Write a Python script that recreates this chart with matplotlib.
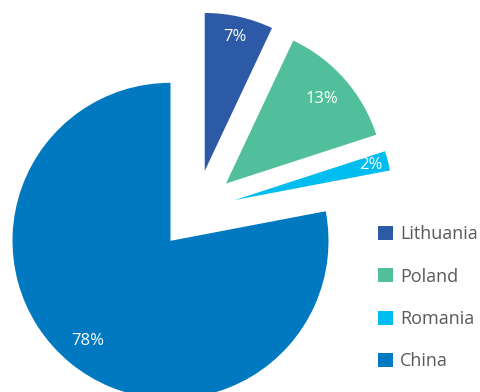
import numpy as np
import matplotlib.pyplot as plt
from matplotlib.patches import Patch

# data
countries = ["Lithuania", "Poland", "Romania", "China"]
shares = [7, 13, 2, 78]
colors = ["#2C5AA6", "#52BF9C", "#00BDF0", "#0079C1"]

plt.rcParams["font.family"] = ["Open Sans", "DejaVu Sans"]

fig = plt.figure(figsize=(4.81, 3.92), dpi=100)
ax = fig.add_axes([0, 0, 1, 1])

# explode is in data units (pixels here), every slice pulled out the same
wedges, texts, autotexts = ax.pie(
    shares,
    colors=colors,
    startangle=90,
    counterclock=False,
    explode=[40] * 4,
    radius=158,
    center=(196, 182),
    autopct="%d%%",
    pctdistance=0.85,
    textprops=dict(color="white", fontsize=12),
    frame=True,
)

# nudge each percentage label along its slice's middle line
label_dist = [0.87, 0.81, 0.89, 0.82]
for w, t, d in zip(wedges, autotexts, label_dist):
    mid = np.deg2rad((w.theta1 + w.theta2) / 2)
    cx, cy = w.center
    t.set_position((cx + d * w.r * np.cos(mid), cy + d * w.r * np.sin(mid)))

ax.set_xlim(0, 481)
ax.set_ylim(0, 392)
ax.set_aspect("equal")
ax.axis("off")

handles = [Patch(facecolor=c, edgecolor="none") for c in colors]
leg = ax.legend(
    handles, countries,
    loc="upper left",
    bbox_to_anchor=(371 / 481, 1 - 218 / 392),
    frameon=False,
    fontsize=13,
    handlelength=0.8,
    handleheight=0.8,
    handletextpad=0.4,
    labelspacing=1.35,
    borderaxespad=0,
)
for t in leg.get_texts():
    t.set_color("#595959")

fig.savefig("out.png", dpi=100)
